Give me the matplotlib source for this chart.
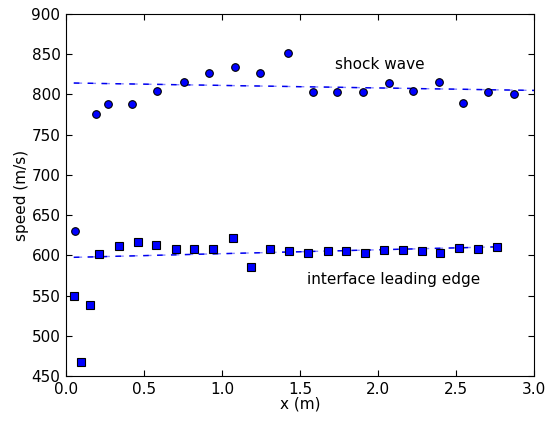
import matplotlib
matplotlib.use('Agg')
from matplotlib import pyplot as plt

# shock wave speeds
shock_x = [0.19, 0.27, 0.425, 0.585, 0.756, 0.917, 1.085, 1.246, 1.421,
           1.583, 1.739, 1.906, 2.068, 2.224, 2.391, 2.545, 2.707, 2.87]
shock_v = [776, 788, 788, 804, 816, 827, 834, 827, 852,
           803, 803, 803, 814, 804, 816, 789, 803, 801]
shock_fit_x = [0.05, 3.0]
shock_fit_v = [814.2, 805.0]

# the single circle at x ~ 0.06
extra_x = [0.058]
extra_v = [630]

# interface leading edge speeds
iface_x = [0.053, 0.098, 0.154, 0.214, 0.338, 0.462, 0.579, 0.703, 0.823,
           0.945, 1.071, 1.188, 1.308, 1.432, 1.553, 1.677, 1.797, 1.915,
           2.038, 2.162, 2.28, 2.4, 2.521, 2.643, 2.765]
iface_v = [550, 468, 538, 602, 611, 617, 613, 608, 608,
           608, 622, 586, 608, 606, 603, 605, 605, 603,
           607, 607, 605, 603, 609, 608, 610]
iface_fit_x = [0.05, 2.79]
iface_fit_v = [597.5, 610.7]

plt.rcParams['font.family'] = 'DejaVu Sans'
plt.rcParams['font.size'] = 11

fig = plt.figure(figsize=(5.48, 4.21), dpi=100)
ax = fig.add_axes([0.1204, 0.1069, 0.8541, 0.8598])

# fit lines: light and dark dashes overlapping, like the original
for fx, fv in [(shock_fit_x, shock_fit_v), (iface_fit_x, iface_fit_v)]:
    ax.plot(fx, fv, color='#8888ff', lw=1, dashes=(6, 4))
    ax.plot(fx, fv, color='#0000ee', lw=1, dashes=(4, 6))
ax.plot(shock_x, shock_v, 'o', color='b', mec='k', mew=0.8, ms=5.5)
ax.plot(extra_x, extra_v, 'o', color='b', mec='k', mew=0.8, ms=5.5)
ax.plot(iface_x, iface_v, 's', color='b', mec='k', mew=0.8, ms=5.5)

ax.text(2.01, 837, 'shock wave', ha='center', va='center')
ax.text(2.10, 570, 'interface leading edge', ha='center', va='center')

ax.set_xlim(0, 3.0)
ax.set_ylim(450, 900)
ax.set_xticks([0.0, 0.5, 1.0, 1.5, 2.0, 2.5, 3.0])
ax.set_yticks(range(450, 901, 50))
ax.tick_params(direction='in', top=True, right=True, length=4, pad=4)
ax.set_xlabel('x (m)', labelpad=0)
ax.set_ylabel('speed (m/s)', labelpad=2)

fig.savefig('out.png', dpi=100)
